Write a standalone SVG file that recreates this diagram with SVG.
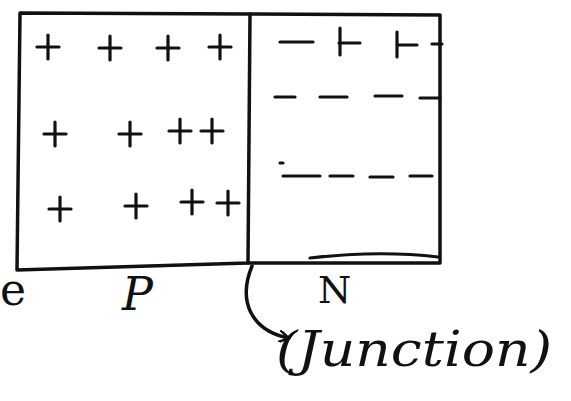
<svg xmlns="http://www.w3.org/2000/svg" width="571" height="401" viewBox="0 0 571 401">
<style>
.ln{stroke:#111;stroke-width:3.5;fill:none;stroke-linecap:round;stroke-linejoin:round}
.sg{stroke:#111;stroke-width:3.2;fill:none;stroke-linecap:round}
.lbl{font-family:"DejaVu Serif","Liberation Serif",serif;fill:#111}
</style>
<defs>
<marker id="ah" markerWidth="12" markerHeight="12" refX="9" refY="6" orient="auto" markerUnits="userSpaceOnUse">
<path d="M0,0 L10,6 L0,12" fill="none" stroke="#111" stroke-width="2.5"/>
</marker>
<g id="plus"><path class="sg" d="M-11,0 H11 M0,-12 V12"/></g>
</defs>
<rect width="571" height="401" fill="#fff"/>
<g id="p-region">
<path class="ln" d="M20,13 L250,14 L248,263 L17,270 Z"/>
<use href="#plus" x="48" y="47"/><use href="#plus" x="110" y="48"/><use href="#plus" x="168" y="48"/><use href="#plus" x="220" y="47"/>
<use href="#plus" x="55" y="134"/><use href="#plus" x="130" y="134"/><use href="#plus" x="180" y="131"/><use href="#plus" x="212" y="131"/>
<use href="#plus" x="60" y="209"/><use href="#plus" x="136" y="206"/><use href="#plus" x="192" y="202"/><use href="#plus" x="228" y="203"/>
</g>
<g id="n-region">
<path class="ln" d="M250,14 L440,15 L440,263 L248,263"/>
<path class="sg" d="M280,42 H313 M339,43 H360 M340,28 V55 M397,45 H417 M397,32 V57 M432,44 H442"/>
<path class="sg" d="M275,97 H295 M320,97 H347 M375,96 H402 M420,98 H440"/>
<path class="sg" d="M283,176 H320 M330,176 H353 M370,177 H393 M410,176 H432 M280,163 h3"/>
<path class="sg" d="M310,258 Q380,250 438,257"/>
</g>
<g id="labels">
<text class="lbl" x="0" y="305" font-size="44">e</text>
<text class="lbl" x="122" y="310" font-size="46" font-style="italic">P</text>
<text class="lbl" x="318" y="303" font-size="38">N</text>
</g>
<g id="junction">
<text class="lbl" x="276" y="366" font-size="48" font-style="italic" textLength="276" lengthAdjust="spacingAndGlyphs">(Junction)</text>
</g>
<g id="connectors">
<path class="ln" d="M252,266 C238,300 250,330 288,338" marker-end="url(#ah)"/>
</g>
</svg>
